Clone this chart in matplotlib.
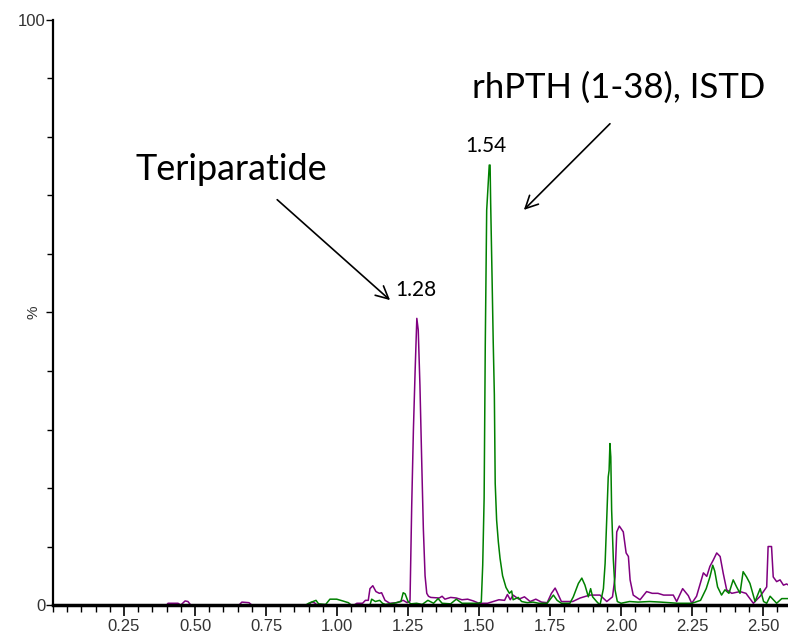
import matplotlib
matplotlib.use("Agg")
import matplotlib.pyplot as plt
from matplotlib.ticker import MultipleLocator

# Teriparatide trace (purple), retention time in min vs relative intensity %
teri_t = [0.00, 0.40, 0.405, 0.44, 0.45, 0.465, 0.475, 0.485, 0.655, 0.665, 0.69, 0.70,
          0.90, 0.91, 0.92, 0.93, 1.06, 1.07, 1.09, 1.10, 1.11, 1.116, 1.126, 1.137, 1.149,
          1.157, 1.169, 1.186, 1.21, 1.233, 1.247, 1.257, 1.263, 1.269, 1.275, 1.281, 1.286,
          1.292, 1.298, 1.304, 1.310, 1.316, 1.322, 1.33, 1.36, 1.37, 1.38, 1.40, 1.42, 1.44,
          1.46, 1.48, 1.50, 1.53, 1.55, 1.57, 1.59, 1.60, 1.61, 1.62, 1.64, 1.66, 1.68, 1.70,
          1.72, 1.74, 1.755, 1.768, 1.775, 1.79, 1.83, 1.856, 1.89, 1.926, 1.95, 1.97, 1.979,
          1.985, 1.994, 2.008, 2.018, 2.026, 2.032, 2.043, 2.067, 2.09, 2.11, 2.13, 2.15, 2.184,
          2.196, 2.217, 2.237, 2.249, 2.266, 2.29, 2.302, 2.313, 2.325, 2.337, 2.349, 2.36,
          2.372, 2.39, 2.419, 2.44, 2.466, 2.49, 2.513, 2.518, 2.53, 2.536, 2.548, 2.56, 2.572,
          2.583, 2.59]
teri_v = [0, 0, 0.3, 0.3, 0, 0.7, 0.6, 0, 0, 0.5, 0.4, 0,
          0, 0.5, 0.4, 0, 0, 0.3, 0.3, 0.8, 0.8, 2.8, 3.3, 2.3, 2.0,
          2.1, 0.8, 0.3, 0.4, 0.8, 0.4, 0.7, 17, 30, 40, 49, 47,
          37.5, 25, 13, 5, 2, 1.5, 1.3, 1.2, 1.5, 1.0, 1.3, 1.2, 0.9,
          1.0, 0.7, 0.3, 0.3, 0.6, 0.9, 0.8, 1.8, 0.9, 1.7, 1.0, 1.4, 0.6, 1.0,
          0.5, 0.4, 2.0, 2.9, 2.2, 0.6, 0.6, 1.2, 1.7, 1.7, 0.6, 1.4, 4.8,
          12.5, 13.5, 12.5, 8.9, 8.3, 4.3, 1.7, 0.9, 2.3, 2.0, 2.0, 1.7, 1.7,
          0.6, 2.8, 1.6, 0.3, 1.5, 5.5, 4.9, 6.6, 7.7, 8.9, 8.3, 5.4,
          2.6, 2.0, 2.3, 2.0, 0.3, 1.5, 3.1, 10, 10, 4.8, 4.0, 4.3, 3.4,
          3.6, 3.4]

# rhPTH (1-38) internal standard trace (green)
istd_t = [0.00, 0.89, 0.90, 0.926, 0.935, 0.96, 0.975, 0.999, 1.02, 1.04, 1.05, 1.116,
          1.122, 1.135, 1.15, 1.16, 1.17, 1.20, 1.225, 1.233, 1.24, 1.25, 1.26, 1.28, 1.30,
          1.32, 1.34, 1.356, 1.37, 1.40, 1.42, 1.44, 1.47, 1.498, 1.508, 1.513, 1.518, 1.522,
          1.527, 1.533, 1.536, 1.539, 1.541, 1.546, 1.55, 1.554, 1.557, 1.562, 1.568, 1.574,
          1.583, 1.595, 1.607, 1.615, 1.62, 1.638, 1.65, 1.67, 1.69, 1.71, 1.74, 1.762, 1.775,
          1.79, 1.82, 1.832, 1.85, 1.862, 1.873, 1.885, 1.893, 1.90, 1.914, 1.926, 1.938,
          1.944, 1.95, 1.955, 1.958, 1.961, 1.964, 1.967, 1.973, 1.979, 1.987, 2.0, 2.03,
          2.06, 2.10, 2.14, 2.17, 2.20, 2.25, 2.28, 2.30, 2.313, 2.323, 2.33, 2.34, 2.354,
          2.366, 2.38, 2.395, 2.407, 2.419, 2.43, 2.442, 2.454, 2.472, 2.49, 2.502, 2.513,
          2.525, 2.548, 2.566, 2.59]
istd_v = [0, 0, 0.3, 0.8, 0.2, 0.1, 1.0, 1.0, 0.7, 0.4, 0, 0,
          1.0, 0.6, 0.8, 0.3, 0.1, 0.3, 0.6, 2.1, 1.9, 0.6, 0.2, 0.3, 0.1,
          0.8, 0.3, 1.1, 0.3, 0.2, 1.0, 0.3, 0.3, 0.3, 0.5, 6.8, 18.3, 44.4,
          67.5, 72.6, 75.2, 75.2, 68.7, 55.8, 45, 35.9, 20.8, 14.5, 10.8, 8.0,
          5.0, 3.0, 2.0, 2.4, 0.9, 1.3, 0.6, 0.4, 0.5, 0.3, 0.3, 1.7, 0.8,
          0.3, 0.3, 1.4, 3.7, 4.6, 3.4, 1.4, 2.8, 1.4, 0.6, 0.0, 2.8,
          7.1, 15.1, 21.9, 23, 27.6, 25.3, 16.2, 7.7, 2.6, 0.6, 0.3, 0.6,
          0.5, 0.6, 0.5, 0.4, 0.3, 0.3, 0.8, 2.8, 4.8, 6.8, 5.8, 3.1, 1.7,
          2.6, 2.0, 4.3, 3.1, 2.0, 5.7, 4.8, 3.7, 0.6, 2.8, 0.6, 0.3,
          1.5, 0.3, 1.1, 1.1]

x_major = [0.25, 0.50, 0.75, 1.00, 1.25, 1.50, 1.75, 2.00, 2.25, 2.50]
x_labels = ["0.25", "0.50", "0.75", "1.00", "1.25", "1.50", "1.75", "2.00", "2.25", "2.50"]

fig = plt.figure(figsize=(7.88, 6.34), dpi=100)
ax = fig.add_axes([0.0673, 0.0457, 0.9327, 0.9228])

ax.plot(teri_t, teri_v, color="#800080", lw=1.1)
ax.plot(istd_t, istd_v, color="#008000", lw=1.1)

ax.set_xlim(0, 2.588)
ax.set_ylim(0, 100)

for s in ["top", "right"]:
    ax.spines[s].set_visible(False)
ax.spines["bottom"].set_linewidth(2.5)
ax.spines["left"].set_linewidth(1.6)

ax.set_xticks(x_major)
ax.set_xticklabels(x_labels)
ax.xaxis.set_minor_locator(MultipleLocator(0.05))
ax.set_yticks([0, 50, 100])
ax.set_yticklabels(["0", "", "100"])
ax.yaxis.set_minor_locator(MultipleLocator(10))
ax.tick_params(axis="x", which="major", length=8, width=1.2, direction="out",
               labelsize=12, labelcolor="#333333", pad=2)
ax.tick_params(axis="x", which="minor", length=5, width=1.0, direction="out")
ax.tick_params(axis="y", which="major", length=5, width=1.0, direction="out",
               labelsize=12, labelcolor="#333333", pad=0.5)
ax.tick_params(axis="y", which="minor", length=4, width=1.0, direction="out")
for lab in ax.get_xticklabels() + ax.get_yticklabels():
    lab.set_fontfamily("Liberation Sans")

ax.text(-0.07, 50, "%", rotation=90, ha="center", va="center", fontsize=11,
        color="#333333", family="Liberation Sans")

# peak labels and compound annotations
ax.text(1.278, 53.8, "1.28", ha="center", va="center", fontsize=15, family="Lato")
ax.text(1.525, 78.5, "1.54", ha="center", va="center", fontsize=15, family="Lato")
ax.text(0.627, 74.4, "Teriparatide", ha="center", va="center", fontsize=26, family="Lato")
ax.text(1.993, 88.4, "rhPTH (1-38), ISTD", ha="center", va="center", fontsize=25,
        family="Lato")
arrow = dict(arrowstyle="->,head_length=0.9,head_width=0.45", color="black", lw=1.2)
ax.annotate("", xy=(1.194, 51.8), xytext=(0.782, 69.6), arrowprops=arrow)
ax.annotate("", xy=(1.651, 67.2), xytext=(1.968, 82.6), arrowprops=arrow)

fig.savefig("out.png", dpi=100)
